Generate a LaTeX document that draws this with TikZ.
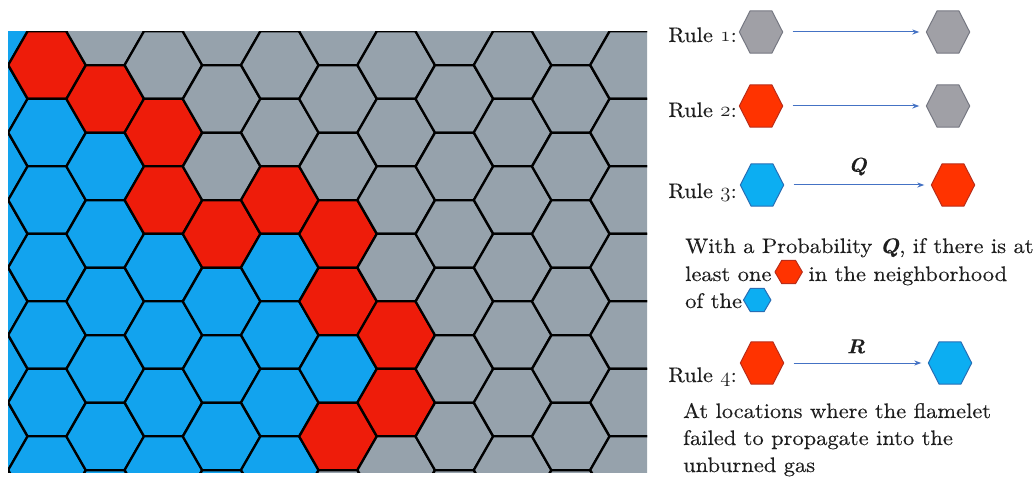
\documentclass[tikz,border=0pt]{standalone}
\usepackage{fontspec}
\setmainfont{lmroman10-regular.otf}[
  BoldFont=lmroman10-bold.otf,
  ItalicFont=lmroman10-italic.otf,
  BoldItalicFont=lmroman10-bolditalic.otf,
  FakeStretch=1.07, FakeBold=0.3]
\usetikzlibrary{arrows.meta,calc}
\definecolor{gB}{RGB}{18,163,238}
\definecolor{gR}{RGB}{238,28,10}
\definecolor{gG}{RGB}{150,162,172}
\definecolor{rGf}{RGB}{160,160,166}
\definecolor{rGd}{RGB}{118,120,130}
\definecolor{rRf}{RGB}{255,51,0}
\definecolor{rRd}{RGB}{185,45,25}
\definecolor{rBf}{RGB}{12,174,242}
\definecolor{rBd}{RGB}{40,110,180}
\definecolor{arr}{RGB}{68,114,196}
\definecolor{txtc}{RGB}{30,30,30}
\newcommand{\osn}[1]{{\usefont{OML}{cmm}{m}{it}#1}}
\newcommand{\hexbox}[5]{%
  \node[hexbase,#5] (#1) at #4 {};
  \filldraw[fill=#2, draw=#3, line width=1pt, line join=round]
    (#1.west) -- ($(#1.north west)!0.25!(#1.north east)$) -- ($(#1.north west)!0.75!(#1.north east)$)
    -- (#1.east) -- ($(#1.south west)!0.75!(#1.south east)$) -- ($(#1.south west)!0.25!(#1.south east)$) -- cycle;}
\begin{document}
\begin{tikzpicture}[x=1pt,y=-1pt,
  gridhex/.style={draw=black, line width=2.3pt, line join=round},
  hexbase/.style={minimum width=43pt, minimum height=42pt, inner sep=0pt, draw=none},
  minihex/.style={minimum width=27pt, minimum height=23pt},
  txt/.style={font=\fontsize{21}{25}\selectfont, text=txtc, inner sep=0pt},
  rulearrow/.style={draw=arr, line width=1pt, -{Stealth[length=7pt,width=5pt]}, shorten <=10pt, shorten >=7pt},
  lbl/.style={font=\fontsize{20}{24}\selectfont\bfseries\itshape, text=txtc, inner sep=0pt}]
\useasboundingbox[fill=white] (0,0) rectangle (1036,478);
% ---------- hexagonal grid ----------
\begin{scope}
\clip (8,31.5) rectangle (647,472);
\foreach \c/\lst in {
  -1/{B,B,B,B,B,B,B,B,B},
   0/{G,R,B,B,B,B,B,B,B},
   1/{G,G,R,B,B,B,B,B,B},
   2/{G,G,R,R,B,B,B,B,B},
   3/{G,G,G,G,R,B,B,B,B},
   4/{G,G,G,R,B,B,B,B,B},
   5/{G,G,G,G,R,R,B,R,G},
   6/{G,G,G,G,G,R,R,G,G},
   7/{G,G,G,G,G,G,G,G,G},
   8/{G,G,G,G,G,G,G,G,G},
   9/{G,G,G,G,G,G,G,G,G},
  10/{G,G,G,G,G,G,G,G,G},
  11/{G,G,G,G,G,G,G,G,G}} {
  \pgfmathsetmacro\cx{47+58.2*\c}
  \pgfmathsetmacro\cy{ifthenelse(mod(\c+2,2)==0,65,31.5)}
  \foreach \col [count=\i] in \lst {
    \pgfmathsetmacro\yy{\cy+67.5*(\i-2)}
    \filldraw[gridhex, fill=g\col, shift={(\cx,\yy)}]
      (-38.8,0) -- (-19.4,-33.75) -- (19.4,-33.75) -- (38.8,0) -- (19.4,33.75) -- (-19.4,33.75) -- cycle;
  }
}
\end{scope}
% ---------- rules ----------
\node[txt, anchor=base east] (r1t) at (737,42) {Rule \osn{1}:};
\hexbox{r1a}{rGf}{rGd}{(761,32)}{}
\hexbox{r1b}{rGf}{rGd}{(948,32)}{}
\draw[rulearrow] (r1a) -- (r1b);

\node[txt, anchor=base east] (r2t) at (737,117) {Rule \osn{2}:};
\hexbox{r2a}{rRf}{rRd}{(761,106)}{}
\hexbox{r2b}{rGf}{rGd}{(948,106)}{}
\draw[rulearrow] (r2a) -- (r2b);

\node[txt, anchor=base east] (r3t) at (737,198) {Rule \osn{3}:};
\hexbox{r3a}{rBf}{rBd}{(762,185)}{}
\hexbox{r3b}{rRf}{rRd}{(953,185)}{}
\draw[rulearrow] (r3a) -- node[lbl, midway, above=9pt] (q) {Q} (r3b);

\node[txt, anchor=base west] (p1) at (685,253) {With a Probability \textbf{\textit{Q}}, if there is at};
\node[txt, anchor=base west] (p2a) at (685,281) {least one};
\hexbox{m1}{rRf}{rRd}{($(p2a.base east)+(17,-9)$)}{minihex}
\node[txt, anchor=base west] (p2b) at ($(m1.east |- p2a.base)+(6,0)$) {in the neighborhood};
\node[txt, anchor=base west] (p3a) at (685,308) {of the};
\hexbox{m2}{rBf}{rBd}{($(p3a.base east)+(15,-8)$)}{minihex}

\node[txt, anchor=base east] (r4t) at (737,382) {Rule \osn{4}:};
\hexbox{r4a}{rRf}{rRd}{(762,363)}{}
\hexbox{r4b}{rBf}{rBd}{(950,363)}{}
\draw[rulearrow] (r4a) -- node[lbl, midway, above=9pt] (rr) {R} (r4b);

\node[txt, anchor=base west] (p4) at (683,418) {At locations where the flamelet};
\node[txt, anchor=base west] (p5) at (683,445) {failed to propagate into the};
\node[txt, anchor=base west] (p6) at (683,472) {unburned gas};
\end{tikzpicture}
\end{document}
